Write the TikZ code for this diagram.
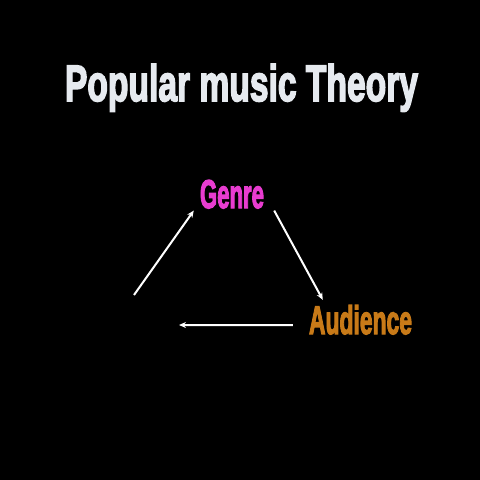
\documentclass[tikz,border=0pt]{standalone}
\usepackage{fontspec}
\usetikzlibrary{arrows.meta}
\newfontfamily\heavy[FakeBold=3.5]{Liberation Sans Bold}
\definecolor{titlecol}{HTML}{E6EAEF}
\definecolor{genrecol}{HTML}{E83CD0}
\definecolor{audcol}{HTML}{C87A18}
\tikzset{
  lbl/.style={inner sep=0pt, anchor=base, font=\heavy},
  conn/.style={draw=white, line width=2pt, -{Stealth[length=7pt,width=6pt]}}
}
\begin{document}
\begin{tikzpicture}[x=1pt,y=-1pt]
  \fill[black] (0,0) rectangle (480,480);
  \useasboundingbox (0,0) rectangle (480,480);
  \node[lbl, text=titlecol] (title) at (241.5,101) {\resizebox{353pt}{37pt}{Popular music Theory}};
  \node[lbl, text=genrecol] (genre) at (232,208) {\resizebox{64pt}{28pt}{Genre}};
  \node[lbl, text=audcol] (aud) at (360.5,334) {\resizebox{103pt}{29pt}{Audience}};
  \coordinate (l1) at (134,295);
  \coordinate (l2) at (179,325);
  \draw[conn] (l1) -- ([shift={(-6,2)}]genre.south west);
  \draw[conn] ([shift={(10,2)}]genre.south east) -- ([shift={(14,-5)}]aud.north west);
  \draw[conn] ([shift={(-16,5.5)}]aud.west) -- (l2);
\end{tikzpicture}
\end{document}
